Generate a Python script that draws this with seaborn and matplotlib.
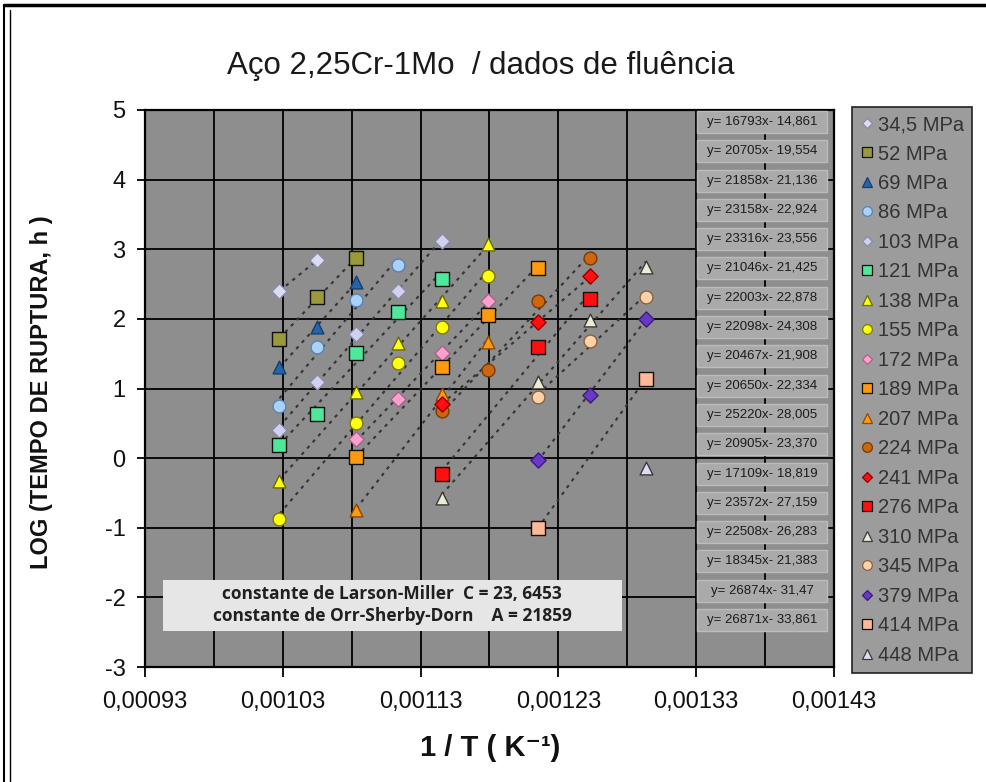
import matplotlib
matplotlib.use("Agg")
import numpy as np
import pandas as pd
import seaborn as sns
import matplotlib.pyplot as plt
from matplotlib.lines import Line2D
from matplotlib.patches import Rectangle
from matplotlib.ticker import FixedLocator, FuncFormatter

# ---------------- data ----------------
stress_labels = ["34,5 MPa", "52 MPa", "69 MPa", "86 MPa", "103 MPa", "121 MPa",
                 "138 MPa", "155 MPa", "172 MPa", "189 MPa", "207 MPa", "224 MPa",
                 "241 MPa", "276 MPa", "310 MPa", "345 MPa", "379 MPa", "414 MPa",
                 "448 MPa"]

# test temperatures (deg C) and log10 rupture time (h) per stress level
T_34 = [700, 675];                    Y_34 = [2.40, 2.84]
T_52 = [700, 675, 650];               Y_52 = [1.71, 2.31, 2.87]
T_69 = [700, 675, 650];               Y_69 = [1.31, 1.88, 2.53]
T_86 = [700, 675, 650, 625];          Y_86 = [0.75, 1.60, 2.27, 2.77]
T_103 = [700, 675, 650, 625, 600];    Y_103 = [0.41, 1.10, 1.78, 2.40, 3.12]
T_121 = [700, 675, 650, 625, 600];    Y_121 = [0.19, 0.64, 1.51, 2.10, 2.57]
T_138 = [700, 650, 625, 600, 575];    Y_138 = [-0.33, 0.95, 1.65, 2.25, 3.07]
T_155 = [700, 650, 625, 600, 575];    Y_155 = [-0.88, 0.50, 1.37, 1.88, 2.62]
T_172 = [650, 625, 600, 575];         Y_172 = [0.27, 0.85, 1.51, 2.25]
T_189 = [650, 600, 575, 550];         Y_189 = [0.01, 1.31, 2.05, 2.73]
T_207 = [650, 600, 575];              Y_207 = [-0.75, 0.92, 1.67]
T_224 = [600, 575, 550, 525];         Y_224 = [0.67, 1.26, 2.25, 2.87]
T_241 = [600, 550, 525];              Y_241 = [0.78, 1.95, 2.61]
T_276 = [600, 550, 525];              Y_276 = [-0.23, 1.60, 2.29]
T_310 = [600, 550, 525, 500];         Y_310 = [-0.57, 1.09, 1.98, 2.75]
T_345 = [550, 525, 500];              Y_345 = [0.88, 1.68, 2.31]
T_379 = [550, 525, 500];              Y_379 = [-0.03, 0.91, 2.00]
T_414 = [550, 500];                   Y_414 = [-1.01, 1.14]
T_448 = [500];                        Y_448 = [-0.14]

series_T = [T_34, T_52, T_69, T_86, T_103, T_121, T_138, T_155, T_172, T_189,
            T_207, T_224, T_241, T_276, T_310, T_345, T_379, T_414, T_448]
series_Y = [Y_34, Y_52, Y_69, Y_86, Y_103, Y_121, Y_138, Y_155, Y_172, Y_189,
            Y_207, Y_224, Y_241, Y_276, Y_310, Y_345, Y_379, Y_414, Y_448]

trend_equations = ["y= 16793x- 14,861", "y= 20705x- 19,554", "y= 21858x- 21,136",
                   "y= 23158x- 22,924", "y= 23316x- 23,556", "y= 21046x- 21,425",
                   "y= 22003x- 22,878", "y= 22098x- 24,308", "y= 20467x- 21,908",
                   "y= 20650x- 22,334", "y= 25220x- 28,005", "y= 20905x- 23,370",
                   "y= 17109x- 18,819", "y= 23572x- 27,159", "y= 22508x- 26,283",
                   "y= 18345x- 21,383", "y= 26874x- 31,47", "y= 26871x- 33,861"]

x_ticks = [0.00093, 0.00103, 0.00113, 0.00123, 0.00133, 0.00143]
y_ticks = [-3, -2, -1, 0, 1, 2, 3, 4, 5]

# ---------------- styles ----------------
markers = ["D", "s", "^", "o", "D", "s", "^", "o", "D", "s",
           "^", "o", "D", "s", "^", "o", "D", "s", "^"]
faces = ["#dcdcf2", "#9a9a3a", "#2464a8", "#a9d2fa", "#d0d0f0", "#4fe89a",
         "#ffff10", "#ffff10", "#ff9fcf", "#ff9a10", "#ff9a10", "#cc6610",
         "#ff1010", "#ff1010", "#ecebd4", "#ffd2a8", "#6a38c8", "#ffb898",
         "#dcdcf6"]
edges = ["#8a8aa8", "#111111", "#14406e", "#5a82b0", "#8a8aa8", "#111111",
         "#6a6a00", "#7a7a00", "#b06088", "#111111", "#8a4a00", "#7a3a00",
         "#8a0000", "#111111", "#3a3a3a", "#8a6040", "#3a1a80", "#111111",
         "#3a3a3a"]
sizes = [60, 95, 85, 85, 60, 95, 85, 85, 60, 95, 85, 85, 60, 95, 85, 85, 60, 95, 85]

rows = []
for lab, ts, ys in zip(stress_labels, series_T, series_Y):
    for t, y in zip(ts, ys):
        rows.append({"stress": lab, "invT": 1.0 / (t + 273.15), "logt": y})
df = pd.DataFrame(rows)

# ---------------- figure ----------------
sns.set_theme(style="white")
plt.rcParams["font.family"] = ["Liberation Sans", "DejaVu Sans"]
plt.rcParams["axes.unicode_minus"] = False

fig = plt.figure(figsize=(9.86, 7.82), dpi=100)
W, H = 986.0, 782.0
ax = fig.add_axes([145 / W, 1 - 667 / H, 689 / W, 557 / H])
ax.set_facecolor("#8e8e8e")

# grid
for gx in np.arange(0.00093, 0.001431, 0.00005):
    ax.axvline(gx, color="black", lw=1.3, zorder=1)
for gy in y_ticks:
    ax.axhline(gy, color="black", lw=1.3, zorder=1)

# trend lines
for lab in stress_labels:
    sub = df[df["stress"] == lab]
    if len(sub) >= 2:
        sns.regplot(data=sub, x="invT", y="logt", scatter=False, ci=None, ax=ax,
                    line_kws=dict(color="#343434", lw=1.5, ls=(0, (1.6, 2.4)), zorder=2))

# points
for i, lab in enumerate(stress_labels):
    sub = df[df["stress"] == lab]
    sns.scatterplot(data=sub, x="invT", y="logt", marker=markers[i], s=sizes[i],
                    color=faces[i], edgecolor=edges[i], linewidth=1.0, ax=ax,
                    zorder=4, legend=False)

ax.set_xlim(0.00093, 0.00143)
ax.set_ylim(-3, 5)
ax.xaxis.set_major_locator(FixedLocator(x_ticks))
ax.yaxis.set_major_locator(FixedLocator(y_ticks))
ax.xaxis.set_major_formatter(FuncFormatter(lambda v, p: f"{v:.5f}".replace(".", ",")))
ax.yaxis.set_major_formatter(FuncFormatter(lambda v, p: f"{int(round(v))}"))
ax.tick_params(axis="x", direction="out", length=7, width=1.3, color="black",
               labelsize=17, pad=10, labelcolor="#111111")
ax.tick_params(axis="y", direction="out", length=6, width=1.3, color="black",
               labelsize=17, pad=8, labelcolor="#111111")
ax.tick_params(bottom=True, left=True)
ax.set_xlabel("")
ax.set_ylabel("")
for sp in ax.spines.values():
    sp.set_color("black")
    sp.set_linewidth(1.6)

# trend-line equation labels
eq_y_px = np.linspace(122, 620, len(trend_equations))
for eq, ypx in zip(trend_equations, eq_y_px):
    yc = (667 - ypx) / 557.0
    ax.add_patch(Rectangle(((697 - 145) / 689.0, yc - 11 / 557.0), 130 / 689.0, 22 / 557.0,
                           transform=ax.transAxes, facecolor="#aaaaaa",
                           edgecolor="#bcbcbc", lw=1.0, zorder=6))
    ax.text((762 - 145) / 689.0, yc, eq, transform=ax.transAxes, ha="center",
            va="center", fontsize=9.5, color="#1c1c1c", zorder=7)

# constants box
ax.add_patch(Rectangle(((163 - 145) / 689.0, (667 - 631) / 557.0), 459 / 689.0, 51 / 557.0,
                       transform=ax.transAxes, facecolor="#e6e6e6", edgecolor="none",
                       zorder=6))
ax.text((392 - 145) / 689.0, (667 - 605) / 557.0,
        "constante de Larson-Miller  C = 23, 6453\nconstante de Orr-Sherby-Dorn    A = 21859",
        transform=ax.transAxes, ha="center", va="center", multialignment="center",
        fontsize=12.5, fontweight="bold", color="#202020", linespacing=1.25,
        family=["Open Sans", "DejaVu Sans"], zorder=7)

# titles
fig.text(481 / W, 1 - 66 / H, "Aço 2,25Cr-1Mo  / dados de fluência", ha="center",
         va="center", fontsize=22.5, color="#1a1a1a")
fig.text(42 / W, 1 - 392 / H, "LOG (TEMPO DE RUPTURA, h )", rotation=90, ha="center",
         va="center", fontsize=17, fontweight="bold", color="#111111")
fig.text(490 / W, 1 - 748 / H, "1 / T ( K⁻¹)", ha="center", va="center",
         fontsize=21, fontweight="bold", color="#111111")

# legend
handles = [Line2D([], [], ls="none", marker=markers[i], markersize=7 if markers[i] != "D" else 5.5,
                  markerfacecolor=faces[i], markeredgecolor=edges[i], markeredgewidth=0.9)
           for i in range(len(stress_labels))]
leg = fig.legend(handles, stress_labels, loc="upper left",
                 bbox_to_anchor=(852 / W, 1 - 107 / H), frameon=True, fontsize=14.5,
                 labelspacing=0.52, handlelength=0.7, handletextpad=0.2,
                 borderpad=0.4, borderaxespad=0, fancybox=False, framealpha=1)
leg.get_frame().set_facecolor("#9c9c9c")
leg.get_frame().set_edgecolor("#222222")
leg.get_frame().set_linewidth(1.2)
for t in leg.get_texts():
    t.set_color("#333333")

# outer chart frame
fig.add_artist(Line2D([4 / W, 1], [1 - 5 / H, 1 - 5 / H], transform=fig.transFigure,
                      color="black", lw=2.5))
fig.add_artist(Line2D([4 / W, 4 / W], [0, 1 - 5 / H], transform=fig.transFigure,
                      color="black", lw=1.5))
fig.add_artist(Line2D([10 / W, 10 / W], [0, 1 - 10 / H], transform=fig.transFigure,
                      color="black", lw=1.0))

fig.savefig("out.png", dpi=100)
